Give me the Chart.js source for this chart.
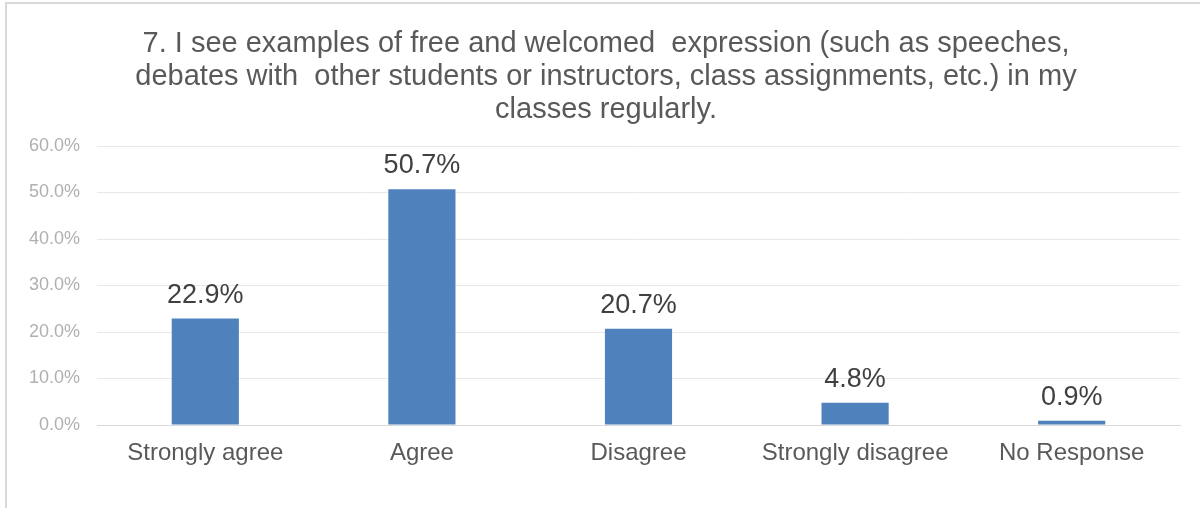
<!DOCTYPE html>
<html>
<head>
<meta charset="utf-8">
<script src="https://cdn.jsdelivr.net/npm/chart.js@4/dist/chart.umd.min.js"></script>
<style>
  html, body { margin: 0; padding: 0; background: #fff; overflow: hidden; width: 1200px; height: 508px; }
  #wrap { position: relative; width: 1200px; height: 508px; }
  #c { position: absolute; left: 0; top: 0; }
  #frame { position: absolute; left: 5px; top: 2px; width: 1400px; height: 700px;
           border-left: 2px solid #d9d9d9; border-top: 2px solid #d9d9d9; pointer-events: none; }
</style>
</head>
<body>
<div id="wrap">
  <canvas id="c" width="1200" height="508"></canvas>
  <div id="frame"></div>
</div>
<script>
const titleLines = [
  "7. I see examples of free and welcomed  expression (such as speeches,",
  "debates with  other students or instructors, class assignments, etc.) in my",
  "classes regularly."
];
const categories = ["Strongly agree", "Agree", "Disagree", "Strongly disagree", "No Response"];
const percentValues = [22.9, 50.7, 20.7, 4.8, 0.9];
const yTickMin = 0;
const yTickMax = 60;
const yTickStep = 10;

const FONT = "'Liberation Sans', Arial, sans-serif";

const dataLabelPlugin = {
  id: 'dataLabels',
  afterDatasetsDraw(chart) {
    const ctx = chart.ctx;
    const meta = chart.getDatasetMeta(0);
    ctx.save();
    ctx.font = "27px " + FONT;
    ctx.fillStyle = "#404040";
    ctx.textAlign = "center";
    ctx.textBaseline = "alphabetic";
    meta.data.forEach((bar, i) => {
      const v = chart.data.datasets[0].data[i];
      ctx.fillText(v.toFixed(1) + "%", bar.x, bar.y - 16);
    });
    ctx.restore();
  }
};

// shift the title's centring box to match the reference's centre
const titleShiftPlugin = {
  id: 'titleShift',
  afterLayout(chart) {
    if (chart.titleBlock) {
      chart.titleBlock.left = 32;
    }
  }
};

new Chart(document.getElementById('c'), {
  type: 'bar',
  data: {
    labels: categories,
    datasets: [{
      data: percentValues,
      backgroundColor: '#4f81bd',
      borderWidth: 0,
      categoryPercentage: 1.0,
      barPercentage: 0.31
    }]
  },
  options: {
    responsive: false,
    animation: false,
    devicePixelRatio: 1,
    layout: { padding: { left: 0, right: 20, top: 0, bottom: 0 } },
    plugins: {
      legend: { display: false },
      tooltip: { enabled: false },
      title: {
        display: true,
        text: titleLines,
        color: '#595959',
        font: { family: FONT, size: 29, weight: 'normal', lineHeight: 33/29 },
        padding: { top: 27.5, bottom: 19.5 }
      }
    },
    scales: {
      x: {
        grid: { display: false, drawTicks: false },
        border: { display: true, color: '#d9d9d9', width: 1 },
        ticks: {
          color: '#595959',
          font: { family: FONT, size: 24 },
          padding: 14,
          maxRotation: 0,
          autoSkip: false
        },
        afterFit(scale) { scale.height = 83; }
      },
      y: {
        min: yTickMin,
        max: yTickMax,
        grid: { color: '#e8e8e8', lineWidth: 1, drawTicks: false },
        border: { display: false },
        ticks: {
          stepSize: yTickStep,
          color: '#b0b0b0',
          font: { family: FONT, size: 18 },
          padding: 17,
          callback: (v) => v.toFixed(1) + "%"
        },
        afterFit(scale) { scale.width = 97; }
      }
    }
  },
  plugins: [dataLabelPlugin, titleShiftPlugin]
});
</script>
</body>
</html>
